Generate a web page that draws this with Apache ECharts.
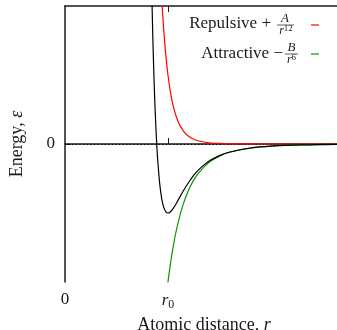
<!DOCTYPE html>
<html>
<head>
<meta charset="utf-8">
<script src="https://cdn.jsdelivr.net/npm/echarts@6/dist/echarts.min.js"></script>
<style>html,body{margin:0;padding:0;background:#fff}#c{width:337px;height:330px}</style>
</head>
<body>
<div id="c"></div>
<script>
// Atomic distance (units of r0) and energies (units of epsilon)
var rBlack = [0.84, 0.85, 0.86, 0.87, 0.88, 0.89, 0.90, 0.92, 0.94, 0.96, 0.98, 1.00, 1.03, 1.06, 1.10, 1.15, 1.20, 1.25, 1.30, 1.40, 1.50, 1.60, 1.80, 2.00, 2.30, 2.70];
var vBlack = [2.41, 1.727, 1.166, 0.706, 0.330, 0.025, -0.222, -0.578, -0.798, -0.923, -0.983, -1.000, -0.974, -0.913, -0.810, -0.678, -0.558, -0.456, -0.371, -0.248, -0.168, -0.116, -0.058, -0.031, -0.0135, -0.0052];
var rRed = [0.93, 0.94, 0.95, 0.96, 0.98, 1.00, 1.03, 1.06, 1.10, 1.15, 1.20, 1.25, 1.30, 1.40, 1.50, 1.60, 1.80, 2.00, 2.30, 2.70];
var vRed = [2.389, 2.101, 1.851, 1.632, 1.274, 1.000, 0.701, 0.497, 0.319, 0.187, 0.112, 0.0687, 0.0429, 0.0176, 0.0077, 0.0036, 0.0009, 0.0002, 0.00005, 0.0];
var rGreen = [0.99, 1.00, 1.03, 1.06, 1.10, 1.15, 1.20, 1.25, 1.30, 1.40, 1.50, 1.60, 1.80, 2.00, 2.30, 2.70];
var vGreen = [-2.124, -2.000, -1.675, -1.410, -1.129, -0.865, -0.670, -0.524, -0.414, -0.266, -0.176, -0.119, -0.059, -0.031, -0.0135, -0.0052];
var xTickValues = [0, 1];
var xTickLabels = ['0', '{i|r}{s|0}'];
var yTickValues = [0];
var yTickLabels = ['0'];

function zip(a, b) { return a.map(function (v, i) { return [v, b[i]]; }); }

var FONT = 'Liberation Serif';
var TXT = '#1a1a1a';
var chart = echarts.init(document.getElementById('c'), null, {renderer: 'canvas'});
var axisLineStyle = {color: '#1a1a1a', width: 1.5};
chart.setOption({
  animation: false,
  backgroundColor: '#fff',
  grid: {left: 65, top: 6, width: 278, height: 276, containLabel: false, outerBoundsMode: 'none'},
  xAxis: [{
    type: 'value', min: 0, max: 2.7, position: 'bottom',
    axisLine: {show: true, lineStyle: axisLineStyle},
    axisTick: {show: true, inside: true, length: 6, customValues: [1], lineStyle: {color: '#1a1a1a', width: 1}},
    axisLabel: {show: true, customValues: xTickValues, margin: 9, color: TXT, fontFamily: FONT, fontSize: 17,
      formatter: function (v) { var i = xTickValues.indexOf(v); return i >= 0 ? xTickLabels[i] : ''; },
      rich: {i: {fontFamily: FONT, fontStyle: 'italic', fontSize: 17, color: TXT},
             s: {fontFamily: FONT, fontSize: 12, color: TXT, padding: [8, 0, 0, 0]}}},
    splitLine: {show: false},
    name: 'Atomic distance, {i|r}', nameLocation: 'middle', nameGap: 31,
    nameTextStyle: {color: TXT, fontFamily: FONT, fontSize: 18,
      rich: {i: {fontFamily: FONT, fontStyle: 'italic', fontSize: 18, color: TXT}}}
  }, {
    type: 'value', min: 0, max: 2.7, position: 'top',
    axisLine: {show: true, lineStyle: axisLineStyle},
    axisTick: {show: true, inside: true, length: 6, customValues: [1], lineStyle: {color: '#1a1a1a', width: 1}},
    axisLabel: {show: false}, splitLine: {show: false}
  }],
  yAxis: [{
    type: 'value', min: -2, max: 2, position: 'left',
    axisLine: {show: true, lineStyle: axisLineStyle},
    axisTick: {show: true, inside: true, length: 6, customValues: yTickValues, lineStyle: {color: '#1a1a1a', width: 1}},
    axisLabel: {show: true, customValues: yTickValues, margin: 10, color: TXT, fontFamily: FONT, fontSize: 17,
      formatter: function (v) { var i = yTickValues.indexOf(v); return i >= 0 ? yTickLabels[i] : ''; }},
    splitLine: {show: false},
    name: 'Energy, {i|ε}', nameLocation: 'middle', nameGap: 39, nameRotate: 90,
    nameTextStyle: {color: TXT, fontFamily: FONT, fontSize: 18,
      rich: {i: {fontFamily: FONT, fontStyle: 'italic', fontSize: 18, color: TXT}}}
  }],
  series: [{
    type: 'line', name: 'Lennard-Jones', data: zip(rBlack, vBlack), symbol: 'none', smooth: 0.3,
    lineStyle: {color: '#000', width: 1.2}, z: 3,
    markLine: {silent: true, symbol: ['none', 'none'], label: {show: false},
      lineStyle: {color: '#000', width: 1, type: [1.2, 2.4]}, data: [{yAxis: 0}], z: 1}
  }, {
    type: 'line', name: 'Repulsive', data: zip(rRed, vRed), symbol: 'none', smooth: 0.3,
    lineStyle: {color: '#ff0000', width: 1.2}, z: 2
  }, {
    type: 'line', name: 'Attractive', data: zip(rGreen, vGreen), symbol: 'none', smooth: 0.3,
    lineStyle: {color: '#0a960a', width: 1.2}, z: 2
  }],
  graphic: [
    {type: 'text', x: 271, y: 24, style: {text: 'Repulsive +', align: 'right', verticalAlign: 'middle', font: '17px "' + FONT + '"', fill: TXT}},
    {type: 'text', x: 285, y: 18.5, style: {text: 'A', align: 'center', verticalAlign: 'middle', font: 'italic 13px "' + FONT + '"', fill: TXT}},
    {type: 'line', shape: {x1: 277, y1: 25, x2: 294, y2: 25}, style: {stroke: TXT, lineWidth: 0.7}},
    {type: 'text', x: 286, y: 31, style: {text: '{i|r}{s|12}', align: 'center', verticalAlign: 'middle', rich: {i: {font: 'italic 12px "' + FONT + '"', fill: TXT}, s: {font: '9px "' + FONT + '"', fill: TXT, padding: [0, 0, 4, 0]}}}},
    {type: 'line', shape: {x1: 311, y1: 25, x2: 319, y2: 25}, style: {stroke: '#ff0000', lineWidth: 1.2}},
    {type: 'text', x: 283, y: 53.5, style: {text: 'Attractive −', align: 'right', verticalAlign: 'middle', font: '17px "' + FONT + '"', fill: TXT}},
    {type: 'text', x: 291.5, y: 47.5, style: {text: 'B', align: 'center', verticalAlign: 'middle', font: 'italic 13px "' + FONT + '"', fill: TXT}},
    {type: 'line', shape: {x1: 285, y1: 54, x2: 298, y2: 54}, style: {stroke: TXT, lineWidth: 0.7}},
    {type: 'text', x: 291.5, y: 60, style: {text: '{i|r}{s|6}', align: 'center', verticalAlign: 'middle', rich: {i: {font: 'italic 12px "' + FONT + '"', fill: TXT}, s: {font: '9px "' + FONT + '"', fill: TXT, padding: [0, 0, 4, 0]}}}},
    {type: 'line', shape: {x1: 311, y1: 54, x2: 319, y2: 54}, style: {stroke: '#0a960a', lineWidth: 1.2}}
  ]
});
</script>
</body>
</html>
